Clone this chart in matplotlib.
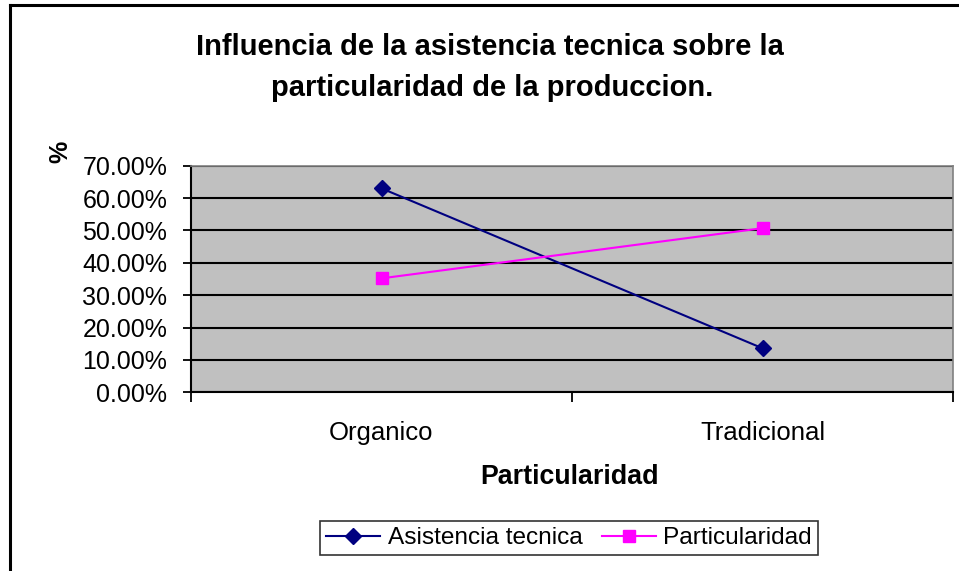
import matplotlib
matplotlib.use("Agg")
import matplotlib.pyplot as plt
from matplotlib.lines import Line2D
from matplotlib.ticker import FixedLocator, PercentFormatter, NullFormatter

categories = ["Organico", "Tradicional"]
asistencia = [63.0, 13.6]
particularidad = [35.2, 50.7]
yticks = [0, 10, 20, 30, 40, 50, 60, 70]

W, H = 959, 571
fig = plt.figure(figsize=(W / 100, H / 100), dpi=100)
fig.patch.set_facecolor("white")
plt.rcParams["font.family"] = ["Liberation Sans", "DejaVu Sans"]

# outer chart border (cropped at right/bottom)
fig.add_artist(Line2D([10 / W, 1.0], [1 - 5 / H, 1 - 5 / H], color="black", lw=2.2,
                      transform=fig.transFigure))
fig.add_artist(Line2D([10 / W, 10 / W], [1 - 5 / H, 0.0], color="black", lw=2.2,
                      transform=fig.transFigure))

L, R, T, B = 191, 953, 165.7, 392.3
ax = fig.add_axes([L / W, 1 - B / H, (R - L) / W, (B - T) / H])
ax.set_facecolor("#C0C0C0")

x = list(range(len(categories)))
ax.plot(x, asistencia, color="#000080", marker="D", markersize=8, lw=1.5,
        label="Asistencia tecnica")
ax.plot(x, particularidad, color="#FF00FF", marker="s", markersize=8.5, lw=1.5,
        label="Particularidad")

ax.set_xlim(-0.5, len(categories) - 0.5)
ax.set_ylim(0, 70)
ax.set_yticks(yticks)
ax.yaxis.set_major_formatter(PercentFormatter(decimals=2))
ax.yaxis.grid(True, color="black", lw=1.5)
ax.set_axisbelow(True)

ax.xaxis.set_major_locator(FixedLocator([i - 0.5 for i in range(len(categories) + 1)]))
ax.xaxis.set_major_formatter(NullFormatter())
ax.xaxis.set_minor_locator(FixedLocator(x))
ax.set_xticklabels(categories, minor=True)
ax.tick_params(axis="x", which="minor", length=0, labelsize=18.5, pad=21)
ax.tick_params(axis="x", which="major", length=7, width=1.3, direction="out")
ax.tick_params(axis="y", length=6, width=1.3, labelsize=18, pad=11)

for s in ["top", "right"]:
    ax.spines[s].set_color("#808080")
    ax.spines[s].set_linewidth(1.2)
ax.spines["left"].set_linewidth(1.5)
ax.spines["bottom"].set_linewidth(1.5)

fig.text(490 / W, 1 - 47 / H, "Influencia de la asistencia tecnica sobre la",
         ha="center", va="center", fontsize=21, fontweight="bold")
fig.text(492 / W, 1 - 88 / H, "particularidad de la produccion.",
         ha="center", va="center", fontsize=21, fontweight="bold")
fig.text(60 / W, 1 - 152 / H, "%", rotation=90, ha="center", va="center",
         fontsize=18, fontweight="bold")
fig.text(570 / W, 1 - 477 / H, "Particularidad", ha="center", va="center",
         fontsize=19.3, fontweight="bold")

leg = fig.legend(loc="center", bbox_to_anchor=(569 / W, 1 - 538 / H), ncol=2,
                 fontsize=17.6, frameon=True, fancybox=False, edgecolor="black",
                 handlelength=2.2, handletextpad=0.3, columnspacing=0.8,
                 borderpad=0.25)
leg.get_frame().set_linewidth(1.2)

fig.savefig("out.png", dpi=100)
